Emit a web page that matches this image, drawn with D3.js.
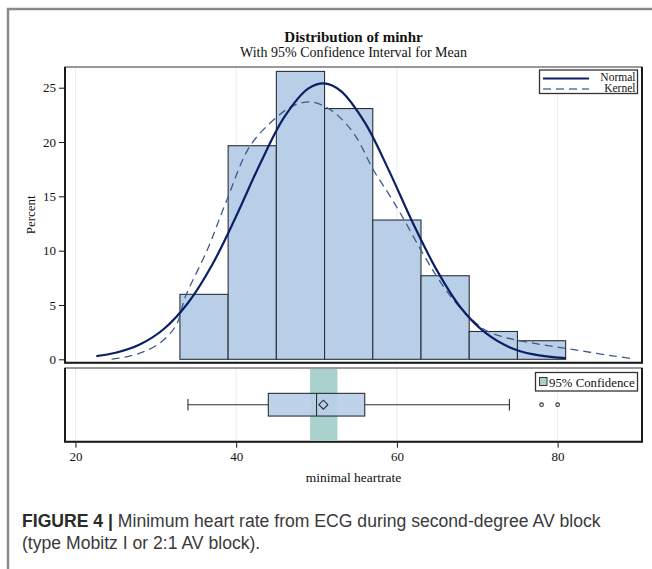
<!DOCTYPE html>
<html><head><meta charset="utf-8">
<script src="https://cdn.jsdelivr.net/npm/d3@7"></script>
<style>html,body{margin:0;padding:0;background:#fff;}svg{display:block;}</style>
</head><body>
<script>
// ---- data ----
const binStart = [33, 39, 45, 51, 57, 63, 69, 75];
const binEnd   = [39, 45, 51, 57, 63, 69, 75, 81];
const binPercent = [5.98, 19.66, 26.50, 23.08, 12.82, 7.69, 2.56, 1.71];
const yTicks = [0, 5, 10, 15, 20, 25];
const xTicks = [20, 40, 60, 80];
const normalX = [22.6, 25, 28, 31, 34, 37, 40, 43, 46, 49, 51, 53, 56, 59, 62, 65, 68, 71, 74, 77, 81];
const normalY = [0.29, 0.60, 1.36, 2.79, 5.18, 8.68, 13.17, 18.03, 22.31, 24.94, 25.40, 24.71, 21.81, 17.39, 12.53, 8.16, 4.70, 2.45, 1.12, 0.45, 0.10];
const kernelX = [24.5, 26.5, 28.5, 30.5, 32.5, 33.7, 36.4, 38.7, 41.7, 44.9, 47, 49.1, 51.1, 53, 54.9, 57.1, 59, 60.7, 62.8, 64.9, 67, 69, 71, 73, 75, 78, 81, 84, 87, 89.5];
const kernelY = [0.02, 0.25, 0.7, 1.5, 3.1, 5.8, 10.06, 14.4, 19.6, 22.2, 23.3, 23.7, 23.25, 22.2, 20.5, 17.4, 15.2, 13.1, 10.3, 7.7, 5.5, 3.9, 2.7, 2.1, 1.75, 1.35, 1.0, 0.65, 0.3, 0.03];
const boxStats = ["min", "q1", "median", "q3", "max"];
const boxValues = [34, 44, 50, 56, 74];
const boxMean = [50.85];
const outliers = [78, 80];
const ciBounds = [49.2, 52.6];
const titleText = "Distribution of minhr";
const subtitleText = "With 95% Confidence Interval for Mean";
const legendLabels = ["Normal", "Kernel"];
const ciLabel = "95% Confidence";
const xLabel = "minimal heartrate";
const yLabel = "Percent";

const W = 652, H = 569;
const svg = d3.select("body").append("svg").attr("width", W).attr("height", H);
const serif = "'Liberation Serif','Times New Roman',serif";

// outer figure frame
svg.append("path").attr("d", "M8,569V9H652").attr("fill", "none").attr("stroke", "#8a8a8a").attr("stroke-width", 2.5);

const L = 65, R = 642;
const up = {top: 67, bottom: 362.7};
const lo = {top: 368, bottom: 441.7};
const x = d3.scaleLinear().domain([18.7, 90.5]).range([L, R]);
const y = d3.scaleLinear().domain([0, 25]).range([359.3, 87.7]);

// titles
svg.append("text").attr("x", (L + R) / 2).attr("y", 41.5).attr("text-anchor", "middle")
  .attr("font-family", serif).attr("font-size", 15).attr("font-weight", "bold").attr("fill", "#111").text(titleText);
svg.append("text").attr("x", (L + R) / 2).attr("y", 56.5).attr("text-anchor", "middle")
  .attr("font-family", serif).attr("font-size", 14).attr("fill", "#111").text(subtitleText);

// gridlines
[up, lo].forEach(p => {
  svg.append("g").selectAll("line").data(xTicks).join("line")
    .attr("x1", d => x(d)).attr("x2", d => x(d)).attr("y1", p.top).attr("y2", p.bottom)
    .attr("stroke", "#ececec").attr("stroke-width", 1);
});

// upper panel clip
svg.append("clipPath").attr("id", "cu").append("rect").attr("x", L).attr("y", up.top).attr("width", R - L).attr("height", up.bottom - up.top);
const gu = svg.append("g").attr("clip-path", "url(#cu)");

// bars
gu.selectAll("rect.bar").data(binPercent).join("rect").attr("class", "bar")
  .attr("x", (d, i) => x(binStart[i])).attr("width", (d, i) => x(binEnd[i]) - x(binStart[i]))
  .attr("y", d => y(d)).attr("height", d => y(0) - y(d))
  .attr("fill", "#b9cfe8").attr("stroke", "#2b2f38").attr("stroke-width", 1.1);

const line = d3.line().curve(d3.curveCatmullRom.alpha(0.5));
gu.append("path").attr("d", line(kernelX.map((v, i) => [x(v), y(kernelY[i])])))
  .attr("fill", "none").attr("stroke", "#3d5a8a").attr("stroke-width", 1.3).attr("stroke-dasharray", "8,5");
gu.append("path").attr("d", line(normalX.map((v, i) => [x(v), y(normalY[i])])))
  .attr("fill", "none").attr("stroke", "#0b1f66").attr("stroke-width", 2.2);

// panels frames
[up, lo].forEach(p => {
  svg.append("rect").attr("x", L).attr("y", p.top).attr("width", R - L).attr("height", p.bottom - p.top)
    .attr("fill", "none").attr("stroke", "#555").attr("stroke-width", 1.2);
  svg.append("path").attr("d", `M${L},${p.top}V${p.bottom}H${R}V${p.top}`).attr("fill", "none").attr("stroke", "#1a1a1a").attr("stroke-width", 2);
});

// y axis
const ya = svg.append("g").attr("transform", `translate(${L - 1},0)`)
  .call(d3.axisLeft(y).tickValues(yTicks).tickSize(5).tickPadding(3));
ya.select(".domain").remove();
ya.selectAll("text").attr("font-family", serif).attr("font-size", 13).attr("fill", "#111");
ya.selectAll("line").attr("stroke", "#111");
svg.append("text").attr("transform", `translate(35,${(up.top + up.bottom) / 2}) rotate(-90)`).attr("text-anchor", "middle")
  .attr("font-family", serif).attr("font-size", 13).attr("fill", "#111").text(yLabel);

// x axis
const xa = svg.append("g").attr("transform", `translate(0,${lo.bottom + 1})`)
  .call(d3.axisBottom(x).tickValues(xTicks).tickSize(5).tickPadding(4));
xa.select(".domain").remove();
xa.selectAll("text").attr("font-family", serif).attr("font-size", 13).attr("fill", "#111");
xa.selectAll("line").attr("stroke", "#111");
svg.append("text").attr("x", (L + R) / 2).attr("y", 482).attr("text-anchor", "middle")
  .attr("font-family", serif).attr("font-size", 13.5).attr("fill", "#111").text(xLabel);

// upper legend
const lg = svg.append("g");
lg.append("rect").attr("x", 539.5).attr("y", 70).attr("width", 98).attr("height", 23.5).attr("fill", "#fff").attr("stroke", "#333").attr("stroke-width", 1.3);
lg.append("line").attr("x1", 543).attr("x2", 589).attr("y1", 78.5).attr("y2", 78.5).attr("stroke", "#0b1f66").attr("stroke-width", 2.2);
lg.append("line").attr("x1", 543).attr("x2", 589).attr("y1", 89).attr("y2", 89).attr("stroke", "#5a78a8").attr("stroke-width", 1.5).attr("stroke-dasharray", "8,5");
lg.selectAll("text").data(legendLabels).join("text").attr("x", 635.5).attr("y", (d, i) => 81 + i * 10.5)
  .attr("text-anchor", "end").attr("font-family", serif).attr("font-size", 11.5).attr("fill", "#111").text(d => d);

// lower panel: CI band, box
const cy = 404.7, bh = 22.7;
svg.append("rect").attr("x", x(ciBounds[0])).attr("width", x(ciBounds[1]) - x(ciBounds[0]))
  .attr("y", lo.top + 1).attr("height", lo.bottom - lo.top - 2).attr("fill", "#a9d2cd");
const bv = Object.fromEntries(boxStats.map((k, i) => [k, boxValues[i]]));
const gb = svg.append("g").attr("stroke", "#2b2f38").attr("stroke-width", 1.1);
gb.append("line").attr("x1", x(bv.min)).attr("x2", x(bv.q1)).attr("y1", cy).attr("y2", cy);
gb.append("line").attr("x1", x(bv.q3)).attr("x2", x(bv.max)).attr("y1", cy).attr("y2", cy);
gb.append("line").attr("x1", x(bv.min)).attr("x2", x(bv.min)).attr("y1", cy - 5.7).attr("y2", cy + 5.7);
gb.append("line").attr("x1", x(bv.max)).attr("x2", x(bv.max)).attr("y1", cy - 5.7).attr("y2", cy + 5.7);
gb.append("rect").attr("x", x(bv.q1)).attr("width", x(bv.q3) - x(bv.q1)).attr("y", cy - bh / 2).attr("height", bh)
  .attr("fill", "#b9cfe8").attr("fill-opacity", 0.92);
gb.append("line").attr("x1", x(bv.median)).attr("x2", x(bv.median)).attr("y1", cy - bh / 2).attr("y2", cy + bh / 2);
gb.selectAll("path.mean").data(boxMean).join("path").attr("class", "mean")
  .attr("d", d => `M${x(d)},${cy - 4.5}L${x(d) + 4.5},${cy}L${x(d)},${cy + 4.5}L${x(d) - 4.5},${cy}Z`).attr("fill", "none");
gb.selectAll("circle").data(outliers).join("circle").attr("cx", d => x(d)).attr("cy", cy).attr("r", 1.8).attr("fill", "none");

// lower legend
const lg2 = svg.append("g");
lg2.append("rect").attr("x", 535.5).attr("y", 372.5).attr("width", 102).attr("height", 18.5).attr("fill", "#fff").attr("stroke", "#333").attr("stroke-width", 1.3);
lg2.append("rect").attr("x", 539.5).attr("y", 377.5).attr("width", 7.5).attr("height", 8).attr("fill", "#a9d2cd").attr("stroke", "#333").attr("stroke-width", 1);
lg2.append("text").attr("x", 549).attr("y", 386.5).attr("font-family", serif).attr("font-size", 12.8).attr("fill", "#111").text(ciLabel);

// caption
const cap = svg.append("text").attr("font-family", "'Liberation Sans',Arial,sans-serif").attr("font-size", 17.6).attr("fill", "#3a3a3a");
const t1 = cap.append("tspan").attr("x", 22).attr("y", 526.5);
t1.append("tspan").attr("font-weight", "bold").attr("fill", "#2a2a2a").text("FIGURE 4 | ");
t1.append("tspan").text("Minimum heart rate from ECG during second-degree AV block");
cap.append("tspan").attr("x", 22).attr("y", 549).text("(type Mobitz I or 2:1 AV block).");
</script>
</body></html>
